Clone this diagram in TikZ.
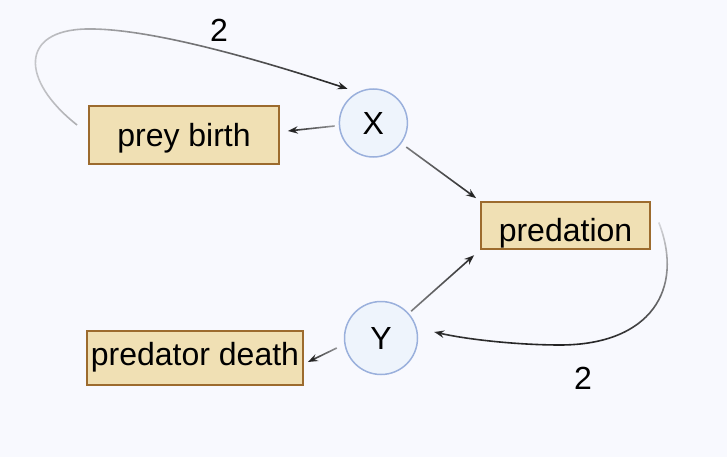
\documentclass[tikz,border=0pt]{standalone}
\usepackage{fontspec}
\setmainfont{Liberation Sans}
\usetikzlibrary{arrows.meta,fadings}
\definecolor{bgc}{HTML}{F8F9FE}
\definecolor{boxfill}{HTML}{F0E0B4}
\definecolor{boxline}{HTML}{9C6B2E}
\definecolor{circfill}{HTML}{EEF4FC}
\definecolor{circline}{HTML}{9AB0DC}
\definecolor{edgec}{HTML}{222222}
\tikzfading[name=fdR, left color=transparent!80, right color=transparent!0]
\tikzfading[name=fdL, left color=transparent!0, right color=transparent!55]
\tikzfading[name=fdRs, left color=transparent!45, right color=transparent!0]
\tikzfading[name=fdD, top color=transparent!85, bottom color=transparent!0]
\begin{document}
\begin{tikzpicture}[x=1pt,y=-1pt,
  procbox/.style={draw=boxline, fill=boxfill, line width=1.8pt, inner sep=0pt, text depth=0pt, font=\fontsize{32}{38}\selectfont},
  species/.style={circle, draw=circline, fill=circfill, line width=1.5pt, inner sep=0pt, minimum size=68pt, font=\fontsize{32}{36}\selectfont},
  edge/.style={draw=edgec, line width=1.6pt, -{Stealth[length=10pt,width=7.5pt]}},
  lbl/.style={font=\fontsize{32}{36}\selectfont, inner sep=0pt}
]
\fill[bgc] (0,0) rectangle (727,457);
\useasboundingbox (0,0) rectangle (727,457);

\node[procbox, minimum width=190pt, minimum height=58pt, text height=23.4pt] (pb) at (184,135) {prey birth\hspace{14pt}};
\node[procbox, minimum width=169pt, minimum height=47pt, text height=31pt] (pr) at (565.5,225.5) {predation};
\node[procbox, minimum width=216pt, minimum height=54pt, text height=14pt] (pd) at (195,358) {predator death};
\node[species, minimum size=68pt] (X) at (373.4,123) {X};
\node[species, minimum size=73pt] (Y) at (381,338) {Y};

% prey birth -> X (curved, label 2)
\draw[edge, path fading=fdR] ([xshift=-11pt,yshift=10pt]pb.west)
  .. controls (20,80) and (20,30) .. (87,29)
  .. controls (150,28) and (260,60) .. ([xshift=-3pt,yshift=8pt]X.131);
\node[lbl] (l1) at (219,30) {2};

% X -> prey birth
\draw[edge, path fading=fdL] ([xshift=-4pt,yshift=-3pt]X.west) -- ([xshift=8pt,yshift=4pt]pb.east);

% X -> predation
\draw[edge, path fading=fdRs, shorten <=6pt, shorten >=5pt] (X) -- (pr.north west);

% Y -> predation
\draw[edge, path fading=fdRs, shorten <=3pt, shorten >=8pt] (Y) -- (pr.south west);

% predation -> Y (curved, label 2)
\draw[edge, path fading=fdD] ([xshift=8pt,yshift=3pt]pr.east)
  .. controls (685,290) and (650,345) .. (560,345)
  .. controls (520,345) and (470,340) .. ([xshift=16pt,yshift=6pt]Y.east);
\node[lbl] (l2) at (583,378.5) {2};

% Y -> predator death
\draw[edge, path fading=fdL] ([xshift=-7pt,yshift=-10pt]Y.west) -- ([xshift=4pt,yshift=-4pt]pd.east);
\end{tikzpicture}
\end{document}
